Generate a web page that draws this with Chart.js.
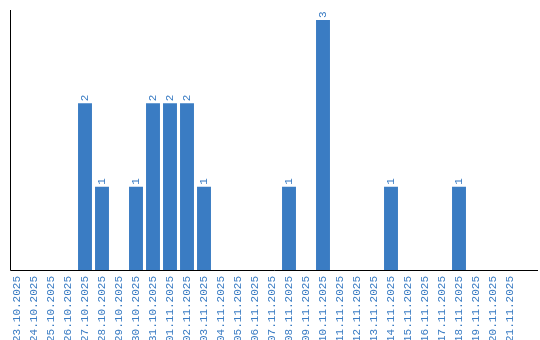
<!DOCTYPE html>
<html>
<head>
<meta charset="utf-8">
<script src="https://cdn.jsdelivr.net/npm/chart.js@4"></script>
<style>
  html, body { margin: 0; padding: 0; background: #fff; }
  #wrap { width: 540px; height: 340px; }
</style>
</head>
<body>
<div id="wrap"><canvas id="dayChart"></canvas></div>
<script>
// данные по дням
const days = [
    "23.10.2025", "24.10.2025", "25.10.2025", "26.10.2025", "27.10.2025",
    "28.10.2025", "29.10.2025", "30.10.2025", "31.10.2025", "01.11.2025",
    "02.11.2025", "03.11.2025", "04.11.2025", "05.11.2025", "06.11.2025",
    "07.11.2025", "08.11.2025", "09.11.2025", "10.11.2025", "11.11.2025",
    "12.11.2025", "13.11.2025", "14.11.2025", "15.11.2025", "16.11.2025",
    "17.11.2025", "18.11.2025", "19.11.2025", "20.11.2025", "21.11.2025"
];
const counts = [
    0, 0, 0, 0, 2,
    1, 0, 1, 2, 2,
    2, 1, 0, 0, 0,
    0, 1, 0, 3, 0,
    0, 0, 1, 0, 0,
    0, 1, 0, 0, 0
];

const blue = "#3a7cc3";
const monoFont = "'Liberation Mono', monospace";

// подписи значений над столбцами (повернутые)
const valueLabels = {
    id: "valueLabels",
    afterDatasetsDraw(chart) {
        const ctx = chart.ctx;
        const meta = chart.getDatasetMeta(0);
        ctx.save();
        ctx.fillStyle = blue;
        ctx.font = "11px " + monoFont;
        ctx.textAlign = "left";
        ctx.textBaseline = "middle";
        meta.data.forEach((bar, i) => {
            if (!counts[i]) return;
            ctx.save();
            ctx.translate(bar.x, bar.y - 2);
            ctx.rotate(-Math.PI / 2);
            ctx.fillText(String(counts[i]), 0, 0);
            ctx.restore();
        });
        ctx.restore();
    }
};

// оси рисуем сами: линия X тянется до правого края
const axisLines = {
    id: "axisLines",
    afterDraw(chart) {
        const ctx = chart.ctx;
        const area = chart.chartArea;
        ctx.save();
        ctx.strokeStyle = "#000";
        ctx.lineWidth = 1;
        ctx.beginPath();
        ctx.moveTo(10.5, area.top);
        ctx.lineTo(10.5, area.bottom + 0.5);
        ctx.lineTo(538, area.bottom + 0.5);
        ctx.stroke();
        ctx.restore();
    }
};

let dayCtx = document.getElementById("dayChart").getContext("2d");
let dayChart = new Chart(dayCtx, {
    type: "bar",
    data: {
        labels: days,
        datasets: [{
            data: counts,
            backgroundColor: blue,
            categoryPercentage: 1,
            barPercentage: 0.82
        }]
    },
    options: {
        responsive: true,
        maintainAspectRatio: false,
        animation: false,
        layout: { padding: { top: 10, right: 21.5, left: 0, bottom: 0 } },
        plugins: {
            legend: { display: false },
            tooltip: { enabled: false }
        },
        scales: {
            x: {
                grid: { display: false, drawTicks: false },
                border: { display: false },
                afterFit: (s) => { s.height = 70; },
                ticks: {
                    color: blue,
                    font: { family: monoFont, size: 11 },
                    minRotation: 90,
                    maxRotation: 90,
                    autoSkip: false,
                    padding: 6
                }
            },
            y: {
                min: 0,
                max: 3.12,
                grid: { display: false },
                border: { display: false },
                ticks: { display: false },
                afterFit: (s) => { s.width = 8.5; }
            }
        }
    },
    plugins: [valueLabels, axisLines]
});
</script>
</body>
</html>
